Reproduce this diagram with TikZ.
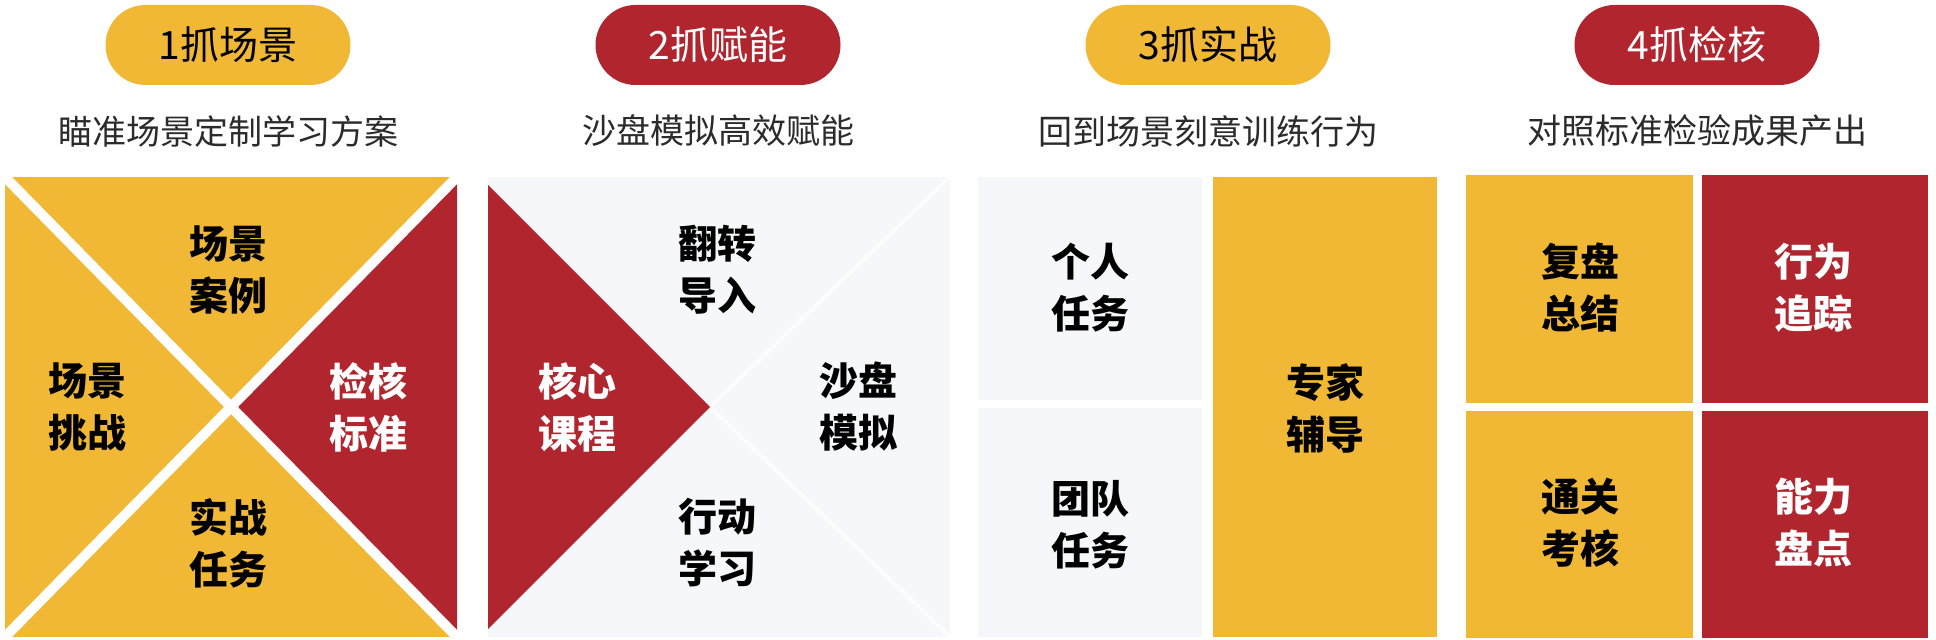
\documentclass[tikz,border=0pt]{standalone}
\usepackage{fontspec}
\newfontfamily\cjk{Noto Sans CJK SC}
\newfontfamily\cjkbold{Noto Sans CJK SC Black}
\usetikzlibrary{positioning}
\definecolor{giallo}{HTML}{F0B834}
\definecolor{rosso}{HTML}{B1262E}
\definecolor{grigio}{HTML}{F5F7FA}
\definecolor{testo}{HTML}{2B2B2B}

\begin{document}
\begin{tikzpicture}[x=0.5pt, y=-0.5pt,
			pill/.style={rounded corners=20pt, minimum width=122.5pt, minimum height=40pt, inner sep=0pt, font=\cjk\fontsize{19.5}{19.5}\selectfont},
			sottotitolo/.style={text=testo, inner sep=0pt, font=\cjk\fontsize{17}{17}\selectfont},
			voce/.style={align=center, inner sep=0pt, font=\cjkbold\fontsize{19.5}{26}\selectfont},
			fessura/.style={draw=white, line width=5pt}]
			
			\useasboundingbox (0,0) rectangle (1936,640);
			
			% --- Intestazioni ---
			\node[pill, fill=giallo, text=black] (p1) at (228,45) {1抓场景};
			\node[pill, fill=rosso, text=white] (p2) at (718,45) {2抓赋能};
			\node[pill, fill=giallo, text=black] (p3) at (1208,45) {3抓实战};
			\node[pill, fill=rosso, text=white] (p4) at (1697,45) {4抓检核};
			
			\node[sottotitolo] (s1) at (228,131) {瞄准场景定制学习方案};
			\node[sottotitolo] (s2) at (718,131) {沙盘模拟高效赋能};
			\node[sottotitolo] (s3) at (1208,131) {回到场景刻意训练行为};
			\node[sottotitolo] (s4) at (1697,131) {对照标准检验成果产出};
			
			% --- Riquadro 1 ---
			\fill[giallo] (5,177) rectangle (457,637);
			\fill[rosso] (457,177) -- (231,407) -- (457,637) -- cycle;
			\draw[fessura] (5,177) -- (457,637);
			\draw[fessura] (457,177) -- (5,637);
			\node[voce] (a1) at (228,270) {场景\\案例};
			\node[voce] (a2) at (87,407) {场景\\挑战};
			\node[voce, text=white] (a3) at (368,407) {检核\\标准};
			\node[voce] (a4) at (228,543) {实战\\任务};
			
			% --- Riquadro 2 ---
			\fill[grigio] (488,177) rectangle (950,637);
			\draw[draw=white, opacity=0.7, line width=2pt] (950,177) -- (710,407) -- (950,637);
			\fill[rosso] (488,185) -- (710,407) -- (488,629) -- cycle;
			\node[voce, text=white] (b1) at (577,407) {核心\\课程};
			\node[voce] (b2) at (717,270) {翻转\\导入};
			\node[voce] (b3) at (858,407) {沙盘\\模拟};
			\node[voce] (b4) at (717,543) {行动\\学习};
			
			% --- Riquadro 3 ---
			\fill[grigio] (978,177) rectangle (1202,400);
			\fill[grigio] (978,408) rectangle (1202,637);
			\fill[giallo] (1213,177) rectangle (1437,637);
			\node[voce] (c1) at (1090,288) {个人\\任务};
			\node[voce] (c2) at (1090,525) {团队\\任务};
			\node[voce] (c3) at (1325,408) {专家\\辅导};
			
			% --- Riquadro 4 ---
			\fill[giallo] (1466,175) rectangle (1693,403);
			\fill[rosso] (1702,175) rectangle (1928,403);
			\fill[giallo] (1466,411) rectangle (1693,638);
			\fill[rosso] (1702,411) rectangle (1928,638);
			\node[voce] (d1) at (1580,288) {复盘\\总结};
			\node[voce, text=white] (d2) at (1813,288) {行为\\追踪};
			\node[voce] (d3) at (1580,523) {通关\\考核};
			\node[voce, text=white] (d4) at (1813,523) {能力\\盘点};
			
		\end{tikzpicture}
\end{document}
